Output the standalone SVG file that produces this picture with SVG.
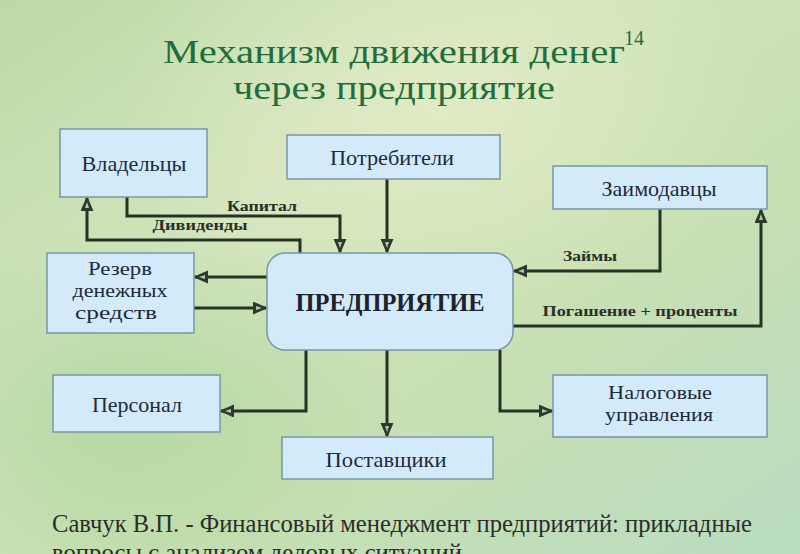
<svg xmlns="http://www.w3.org/2000/svg" width="800" height="554" viewBox="0 0 800 554">
  <defs>
    <linearGradient id="bg" x1="0" y1="0" x2="1" y2="1">
      <stop offset="0" stop-color="#bcd9a6"/>
      <stop offset="0.35" stop-color="#d3e5bd"/>
      <stop offset="0.6" stop-color="#c9e0b2"/>
      <stop offset="1" stop-color="#b9dcc0"/>
    </linearGradient>
    <radialGradient id="glow1" cx="0.55" cy="0.2" r="0.4">
      <stop offset="0" stop-color="#e4ecc8" stop-opacity="0.8"/>
      <stop offset="1" stop-color="#e4ecc8" stop-opacity="0"/>
    </radialGradient>
    <radialGradient id="glow2" cx="0.15" cy="0.75" r="0.35">
      <stop offset="0" stop-color="#a9d39a" stop-opacity="0.7"/>
      <stop offset="1" stop-color="#a9d39a" stop-opacity="0"/>
    </radialGradient>
    <marker id="arr" markerUnits="userSpaceOnUse" markerWidth="16" markerHeight="14" refX="13" refY="6.5" orient="auto">
      <path d="M0,0 L15,6.5 L0,13 Z" fill="#2b3a2b"/>
      <path d="M3,4.5 L9,6.5 L3,8.5 Z" fill="#b9c4aa"/>
    </marker>
    <style>
      text{font-family:"Liberation Serif","Times New Roman","DejaVu Serif",serif}
      .box{fill:#d3eafa;stroke:#7897a6;stroke-width:1.5}
      .nt{font-size:22px;fill:#1d2a3c;text-anchor:middle}
      .nt2{font-size:19px;fill:#1d2a3c;text-anchor:middle}
      .lbl{font-size:15px;font-weight:bold;fill:#2a2f2a;text-anchor:middle}
      .con{fill:none;stroke:#253225;stroke-width:3;marker-end:url(#arr)}
      .title{font-size:33px;fill:#1f6e3c;text-anchor:middle}
      .foot{font-size:25px;fill:#2a2e2a}
    </style>
  </defs>
  <rect width="800" height="554" fill="url(#bg)"/>
  <rect width="800" height="554" fill="url(#glow1)"/>
  <rect width="800" height="554" fill="url(#glow2)"/>

  <g id="title">
    <text class="title" x="394" y="63" textLength="462" lengthAdjust="spacingAndGlyphs">Механизм движения денег</text>
    <text class="title" x="394" y="99" textLength="322" lengthAdjust="spacingAndGlyphs">через предприятие</text>
    <text x="624" y="45" font-size="20" fill="#1f6e3c">14</text>
  </g>

  <g id="connectors">
    <path class="con" d="M127,197 V216 H340 V252"/>
    <path class="con" d="M387,179 V252"/>
    <path class="con" d="M300,253 V240 H87 V198"/>
    <path class="con" d="M660,209 V271 H514"/>
    <path class="con" d="M513,326 H761 V210"/>
    <path class="con" d="M267,277 H195"/>
    <path class="con" d="M194,308 H266"/>
    <path class="con" d="M306,350 V411 H221"/>
    <path class="con" d="M387,350 V436"/>
    <path class="con" d="M500,350 V411 H552"/>
    <text class="lbl" x="262" y="211" textLength="70" lengthAdjust="spacingAndGlyphs">Капитал</text>
    <text class="lbl" x="200" y="230" textLength="95" lengthAdjust="spacingAndGlyphs">Дивиденды</text>
    <text class="lbl" x="590" y="261" textLength="54" lengthAdjust="spacingAndGlyphs">Займы</text>
    <text class="lbl" x="640" y="316" textLength="195" lengthAdjust="spacingAndGlyphs">Погашение + проценты</text>
  </g>

  <g id="owners">
    <rect class="box" x="60" y="129" width="147" height="68"/>
    <text class="nt" x="134" y="171" textLength="105" lengthAdjust="spacingAndGlyphs">Владельцы</text>
  </g>
  <g id="consumers">
    <rect class="box" x="287" y="135" width="213" height="44"/>
    <text class="nt" x="392" y="165" textLength="124" lengthAdjust="spacingAndGlyphs">Потребители</text>
  </g>
  <g id="lenders">
    <rect class="box" x="553" y="166" width="214" height="43"/>
    <text class="nt" x="659" y="196" textLength="115" lengthAdjust="spacingAndGlyphs">Заимодавцы</text>
  </g>
  <g id="reserve">
    <rect class="box" x="47" y="253" width="147" height="80"/>
    <text class="nt2" x="120" y="275" textLength="64" lengthAdjust="spacingAndGlyphs">Резерв</text>
    <text class="nt2" x="120" y="297" textLength="95" lengthAdjust="spacingAndGlyphs">денежных</text>
    <text class="nt2" x="116" y="319" textLength="82" lengthAdjust="spacingAndGlyphs">средств</text>
  </g>
  <g id="enterprise">
    <rect class="box" x="267" y="253" width="246" height="97" rx="18"/>
    <text x="390" y="311" font-size="25" font-weight="bold" fill="#1d232c" text-anchor="middle" textLength="189" lengthAdjust="spacingAndGlyphs">ПРЕДПРИЯТИЕ</text>
  </g>
  <g id="staff">
    <rect class="box" x="53" y="375" width="167" height="57"/>
    <text class="nt" x="137" y="412" textLength="90" lengthAdjust="spacingAndGlyphs">Персонал</text>
  </g>
  <g id="suppliers">
    <rect class="box" x="282" y="437" width="211" height="42"/>
    <text class="nt" x="386" y="467" textLength="121" lengthAdjust="spacingAndGlyphs">Поставщики</text>
  </g>
  <g id="tax">
    <rect class="box" x="553" y="375" width="214" height="62"/>
    <text class="nt2" x="660" y="399" textLength="104" lengthAdjust="spacingAndGlyphs">Налоговые</text>
    <text class="nt2" x="659" y="421" textLength="108" lengthAdjust="spacingAndGlyphs">управления</text>
  </g>

  <g id="footer">
    <text class="foot" x="52" y="532" textLength="700" lengthAdjust="spacingAndGlyphs">Савчук В.П. - Финансовый менеджмент предприятий: прикладные</text>
    <text class="foot" x="52" y="561" textLength="410" lengthAdjust="spacingAndGlyphs">вопросы с анализом деловых ситуаций</text>
  </g>
</svg>
